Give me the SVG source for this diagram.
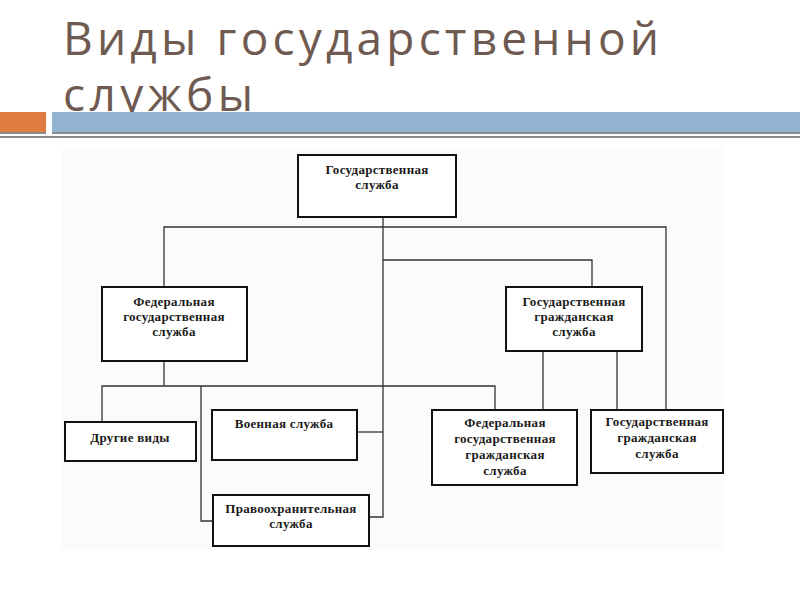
<svg xmlns="http://www.w3.org/2000/svg" width="800" height="600" viewBox="0 0 800 600">
<style>
.title{font-family:"Open Sans","Noto Sans",sans-serif;font-size:46px;fill:#6e5a50}
.box{fill:#fff;stroke:#111;stroke-width:2}
.t{font-family:"Liberation Serif",serif;font-weight:bold;font-size:13px;letter-spacing:0.3px;fill:#1a1a1a;text-anchor:middle}
.c{fill:none;stroke:#333;stroke-width:1.3}
</style>
<rect width="800" height="600" fill="#fff"/>
<text class="title" x="63" y="55" textLength="596" lengthAdjust="spacing">Виды государственной</text>
<text class="title" x="63" y="111" textLength="190" lengthAdjust="spacing">службы</text>
<rect x="0" y="112" width="46" height="20" fill="#e07b41"/>
<rect x="52" y="112" width="748" height="20" fill="#92b4d2"/>
<rect x="0" y="132" width="46" height="2" fill="#8c8c8c"/>
<rect x="52" y="132" width="748" height="2" fill="#8c8c8c"/>
<rect x="0" y="136" width="800" height="2" fill="#8c8c8c"/>
<rect x="62" y="148" width="662" height="402" fill="#fbfbfb"/>
<g id="connectors">
<path class="c" d="M383 217V517H369"/>
<path class="c" d="M164 287V227H666V410"/>
<path class="c" d="M383 260H592V287"/>
<path class="c" d="M164 361V386"/>
<path class="c" d="M102 422V386H495V410"/>
<path class="c" d="M201 386V521H213"/>
<path class="c" d="M357 432H383"/>
<path class="c" d="M543 351V410"/>
<path class="c" d="M617 351V410"/>
</g>
<g id="n-gos">
<rect class="box" x="298" y="155" width="158" height="62"/>
<text class="t" x="377" y="174">Государственная</text>
<text class="t" x="377" y="189">служба</text>
</g>
<g id="n-fed">
<rect class="box" x="102" y="287" width="145" height="74"/>
<text class="t" x="174" y="306">Федеральная</text>
<text class="t" x="174" y="321">государственная</text>
<text class="t" x="174" y="336">служба</text>
</g>
<g id="n-civ">
<rect class="box" x="506" y="287" width="136" height="64"/>
<text class="t" x="574" y="306">Государственная</text>
<text class="t" x="574" y="321">гражданская</text>
<text class="t" x="574" y="336">служба</text>
</g>
<g id="n-other">
<rect class="box" x="65" y="422" width="131" height="39"/>
<text class="t" x="130" y="442">Другие виды</text>
</g>
<g id="n-mil">
<rect class="box" x="212" y="410" width="145" height="50"/>
<text class="t" x="284" y="428">Военная служба</text>
</g>
<g id="n-law">
<rect class="box" x="213" y="495" width="156" height="51"/>
<text class="t" x="291" y="513">Правоохранительная</text>
<text class="t" x="291" y="528">служба</text>
</g>
<g id="n-fedciv">
<rect class="box" x="432" y="410" width="145" height="75"/>
<text class="t" x="505" y="427">Федеральная</text>
<text class="t" x="505" y="443">государственная</text>
<text class="t" x="505" y="459">гражданская</text>
<text class="t" x="505" y="475">служба</text>
</g>
<g id="n-gosciv">
<rect class="box" x="591" y="410" width="132" height="63"/>
<text class="t" x="657" y="426">Государственная</text>
<text class="t" x="657" y="442">гражданская</text>
<text class="t" x="657" y="458">служба</text>
</g>
</svg>
